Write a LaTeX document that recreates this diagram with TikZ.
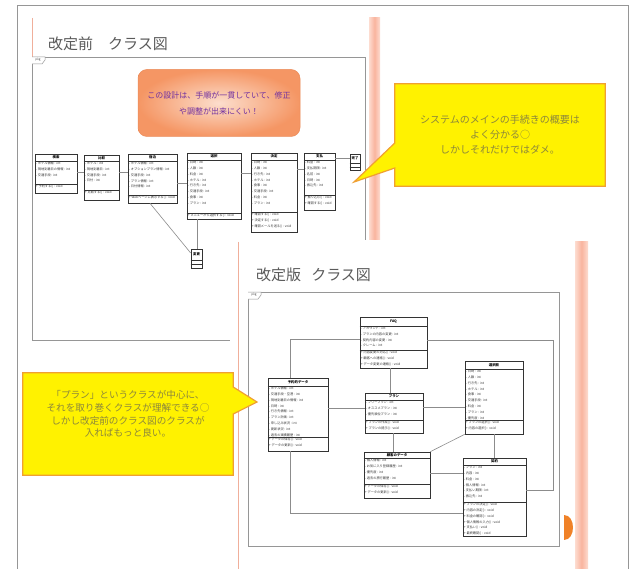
\documentclass[tikz,border=0pt]{standalone}
\usepackage{fontspec}
\setmainfont{Noto Sans CJK JP}
\usetikzlibrary{fit,calc}
\definecolor{pinkL}{RGB}{253,220,208}
\definecolor{pinkD}{RGB}{249,180,158}
\definecolor{pinkLine}{RGB}{240,175,155}
\definecolor{frameGray}{RGB}{150,150,150}
\definecolor{titleGray}{RGB}{90,90,90}
\definecolor{purpleT}{RGB}{112,48,160}
\definecolor{orangeOut}{RGB}{245,150,100}
\definecolor{orangeIn}{RGB}{252,222,205}
\definecolor{orangeB}{RGB}{235,140,90}
\definecolor{calloutT}{RGB}{140,135,60}
\definecolor{calloutB}{RGB}{240,160,50}
\definecolor{semi}{RGB}{240,130,40}
\tikzset{
 classbox/.style={draw=black!80, line width=0.6pt, inner sep=0pt, fill=white},
 classsep/.style={draw=black!80, line width=0.4pt},
 conn/.style={draw=black!45, line width=0.6pt},
 ctext/.style={font=\fontsize{3.2}{5.8}\selectfont, align=left, inner sep=0pt, anchor=north west, text=black!80},
 chead/.style={font=\fontsize{3.4}{4}\selectfont\bfseries, inner sep=0pt, text=black},
 frameline/.style={draw=frameGray, line width=0.7pt},
 pkgtab/.style={draw=frameGray, line width=0.5pt, fill=white},
 pkglabel/.style={font=\fontsize{3}{3}\selectfont, inner sep=0pt, text=black!70},
 calloutshape/.style={fill=yellow, draw=calloutB, line width=1.2pt},
 callouttext/.style={text=calloutT, align=center, inner sep=0pt},
 titletext/.style={font=\fontsize{15}{18}\selectfont, text=titleGray, anchor=west, inner sep=0pt},
 pinkbar/.style={left color=pinkL, right color=pinkL, middle color=pinkD},
}
\newcommand\umlbox[8]{%
  \node[classbox, fit={(#2) (#3)}] (#1) {};
  \draw[classsep] (#1.west |- 0,#4) -- (#1.east |- 0,#4);
  \draw[classsep] (#1.west |- 0,#5) -- (#1.east |- 0,#5);
  \path (#1.north) -- (#1.north |- 0,#4) node[midway, chead] {#6};
  \node[ctext] at ($(#1.west |- 0,#4)+(1.2,0.8)$) {#7};
  \node[ctext] at ($(#1.west |- 0,#5)+(1.2,0.8)$) {#8};
}
\begin{document}
\begin{tikzpicture}[x=1pt,y=-1pt]
\useasboundingbox (0,0) rectangle (634,569);
\fill[white] (0,0) rectangle (634,569);
\draw[frameline] (17,569) -- (17,5) -- (628,5) -- (628,569);
% ---------------- slide 1
\draw[pinkLine, line width=0.8pt] (32,18) -- (32,57);
\shade[pinkbar] (369,18) rectangle (380,240);
\node[titletext] (T1) at (48,44) {改定前　クラス図};
\draw[frameline] (32,57) rectangle (365,340);
\draw[pkgtab] (32,57) -- ++(13,0) -- ++(0,3) -- ++(-3,4) -- ++(-10,0);
\node[pkglabel] at (38,60) {pkg};
\node[rounded corners=9pt, inner color=orangeIn, outer color=orangeOut, draw=orangeB, line width=0.5pt, minimum width=162, minimum height=67] (note) at (219,103) {};
\node[text=purpleT, font=\fontsize{8}{16}\selectfont, align=center, inner sep=0pt] at (note.center) {この設計は、手順が一貫していて、修正\\や調整が出来にくい！};
\umlbox{B1}{35,154}{77,193}{161}{184}{検索}{- ホテル情報 : int\\- 現地到着日の情報 : int\\- 交通手段 : int}{+ 予約する() : void}
\umlbox{B2}{84,155}{119,200}{161}{190}{比較}{- ホテル : int\\- 現地到着日 : int\\- 交通手段 : int\\- 日付 : int}{+ 比較する() : void}
\umlbox{B3}{128,154}{177,203}{161}{195}{宿泊}{- ホテル情報 : int\\- オプションプラン情報 : int\\- 交通手段 : int\\- プラン情報 : int\\- 日付情報 : int}{+ Webページに表示する() : void}
\umlbox{B4}{187,153}{241,219}{160}{213}{選択}{- 日時 : int\\- 人数 : int\\- 料金 : int\\- ホテル : int\\- 行き先 : int\\- 交通手段 : int\\- 食事 : int\\- プラン : int}{+ メニューから選択する() : void}
\umlbox{B5}{251,153}{297,232}{160}{212}{決定}{- 日時 : int\\- 人数 : int\\- 行き先 : int\\- ホテル : int\\- 食事 : int\\- 交通手段 : int\\- 料金 : int\\- プラン : int}{+ 確認する() : void\\+ 決定する() : void\\+ 確認メールを送る() : void}
\umlbox{B6}{304,153}{335,210}{160}{195}{支払}{- 料金 : int\\- 支払期限 : int\\- 名前 : int\\- 日時 : int\\- 振込先 : int}{+ 振り込む() : void\\+ 確認する() : void}
\umlbox{B7}{350,154}{360,170}{163}{167}{完了}{}{}
\umlbox{B8}{191,249}{202,268}{260}{264}{変更}{}{}
\draw[conn] (B1.east |- 0,172) -- (B2.west |- 0,172);
\draw[conn] (B2.east |- 0,172) -- (B3.west |- 0,172);
\draw[conn] (B3.east |- 0,183) -- (B4.west |- 0,183);
\draw[conn] (B4.east |- 0,173) -- (B5.west |- 0,173);
\draw[conn] (B5.east |- 0,169) -- (B6.west |- 0,169);
\draw[conn] (B6.east |- 0,158) -- (B7.west |- 0,158);
\draw[conn] (B3.south -| 150,0) -- (B8.west |- 0,253);
\draw[conn] (B4.south -| 197,0) -- (B8.north -| 197,0);
% callout 1
\coordinate (tip1) at (354,182);
\node[minimum width=210, minimum height=102, inner sep=0pt] (C1) at (500,135) {};
\filldraw[calloutshape] (C1.north west) -- (C1.north east) -- (C1.south east) -- (C1.south west) -- (C1.west |- 0,168) -- (tip1) -- (C1.west |- 0,143) -- cycle;
\node[callouttext, font=\fontsize{10}{15}\selectfont] at (C1.center) {システムのメインの手続きの概要は\\よく分かる○\\しかしそれだけではダメ。};
% ---------------- slide 2
\fill[white] (230,240) rectangle (600,569);
\draw[pinkLine, line width=0.8pt] (238,242) -- (238,569);
\shade[pinkbar] (575,242) rectangle (588,569);
\node[titletext] (T2) at (256,275) {改定版\ \ \ クラス図};
\draw[frameline] (248,292) rectangle (559,546);
\draw[pkgtab] (248,292) -- ++(13,0) -- ++(0,3) -- ++(-3,4) -- ++(-10,0);
\node[pkglabel] at (254,295) {pkg};
\umlbox{FAQ}{360,317}{427,368}{326}{350}{FAQ}{- アカウント : int\\- プランの内容の変更 : int\\- 契約内容の変更 : int\\- クレーム : int}{+ 内容変更の対応() : void\\+ 顧客への連絡() : void\\+ データ変更の連絡() : void}
\umlbox{YD}{268,378}{328,451}{386}{437}{予約的データ}{- ホテル情報 : int\\- 交通手段・空港 : int\\- 現地到着日の情報 : int\\- 日時 : int\\- 行き先情報 : int\\- プラン計画 : int\\- 申し込み状況 : int\\- 更新状況 : int\\- 過去の実績履歴 : int}{+ データの保存() : void\\+ データの更新() : void}
\umlbox{PL}{365,393}{423,433}{400}{420}{プラン}{- フリープラン : int\\- オススメプラン : int\\- 優先順位プラン : int}{+ プランの作成() : void\\+ プランの提示() : void}
\umlbox{KD}{364,452}{430,498}{458}{484}{顧客のデータ}{- 個人情報 : int\\- お気に入り登録履歴 : int\\- 優先度 : int\\- 過去の旅行履歴 : int}{+ データの保存() : void\\+ データの更新() : void}
\umlbox{SE}{465,361}{523,434}{369}{420}{選択肢}{- 日時 : int\\- 人数 : int\\- 行き先 : int\\- ホテル : int\\- 食事 : int\\- 交通手段 : int\\- 料金 : int\\- プラン : int\\- 優先度 : int}{+ プランの選択() : void\\+ 内容の選択() : void}
\umlbox{KY}{463,458}{526,536}{465}{502}{契約}{- プラン : int\\- 内容 : int\\- 料金 : int\\- 個人情報 : int\\- 支払い期限 : int\\- 振込先 : int}{+ プランの決定() : void\\+ 内容の決定() : void\\+ 料金の確認() : void\\+ 個人情報の入力() : void\\+ 支払い() : void\\+ 最終確認() : void}
\draw[conn] (FAQ.west |- 0,339) -| (YD.north -| 290,0);
\draw[conn] (FAQ.east |- 0,340) -| (553,490) -- (KY.east |- 0,490);
\draw[conn] (FAQ.south -| 390,0) -- (PL.north -| 390,0);
\draw[conn] (YD.east |- 0,408) -- (PL.west |- 0,408);
\draw[conn] (PL.east |- 0,407) -- (SE.west |- 0,407);
\draw[conn] (PL.south -| 393,0) -- (KD.north -| 393,0);
\draw[conn] (KD.north east) -- (SE.south west);
\draw[conn] (KD.east |- 0,473) -- (KY.west |- 0,473);
\draw[conn] (SE.south -| 494,0) -- (KY.north -| 494,0);
\draw[conn] (YD.south -| 290,0) |- (KY.west |- 0,513);
\fill[semi] (564,515) .. controls (576,515) and (576,540) .. (564,540) -- cycle;
% callout 2
\coordinate (tip2) at (257,402);
\node[minimum width=210, minimum height=102, inner sep=0pt] (C2) at (128,424) {};
\filldraw[calloutshape] (C2.north west) -- (C2.north east) -- (C2.east |- 0,387) -- (tip2) -- (C2.east |- 0,414) -- (C2.south east) -- (C2.south west) -- cycle;
\node[callouttext, font=\fontsize{9.6}{12.8}\selectfont] at (128,414) {「プラン」というクラスが中心に、\\それを取り巻くクラスが理解できる○\\しかし改定前のクラス図のクラスが\\入ればもっと良い。};
\end{tikzpicture}
\end{document}
